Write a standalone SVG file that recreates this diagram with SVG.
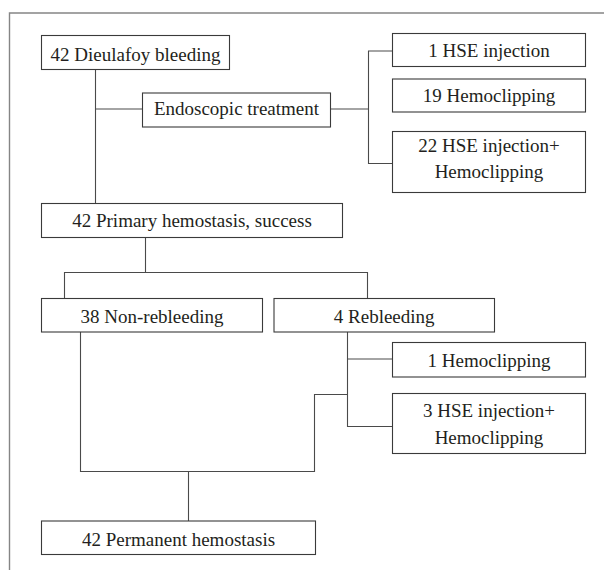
<svg xmlns="http://www.w3.org/2000/svg" width="604" height="570" viewBox="0 0 604 570">
<style>
.frame{fill:none;stroke:#858585;stroke-width:1.4}
.box{fill:#fff;stroke:#3a3a3a;stroke-width:1.1}
.ln{fill:none;stroke:#4a4a4a;stroke-width:1.1}
text{font-family:"Liberation Serif","Times New Roman",serif;font-size:19px;fill:#231f20;text-anchor:middle}
</style>
<rect width="604" height="570" fill="#fff"/>
<path class="frame" d="M9.5,570 V13 H604"/>
<g id="connectors">
<path class="ln" d="M95.5,69 V203"/>
<path class="ln" d="M95.5,109 H142"/>
<path class="ln" d="M330,109 H368.5"/>
<path class="ln" d="M392,51 H368.5 V163.5 H392"/>
<path class="ln" d="M145.5,237 V272.5"/>
<path class="ln" d="M64.5,298 V272.5 H367.5 V298"/>
<path class="ln" d="M347.5,332 V426.5 H392"/>
<path class="ln" d="M347.5,359 H392"/>
<path class="ln" d="M347.5,394.5 H314.5 V471.5 H80.5 V332"/>
<path class="ln" d="M188.5,471.5 V521"/>
</g>
<g id="n1"><rect class="box" x="41.5" y="35.5" width="188" height="34"/><text x="135.5" y="60.7">42 Dieulafoy bleeding</text></g>
<g id="n2"><rect class="box" x="142.5" y="93" width="188" height="34"/><text x="236.5" y="114.7">Endoscopic treatment</text></g>
<g id="n3"><rect class="box" x="392.5" y="33.5" width="193" height="33"/><text x="489" y="57.3">1 HSE injection</text></g>
<g id="n4"><rect class="box" x="392.5" y="79" width="193" height="33"/><text x="489" y="102.3">19 Hemoclipping</text></g>
<g id="n5"><rect class="box" x="392.5" y="131.5" width="193" height="61"/><text x="489" y="152.3">22 HSE injection+</text><text x="489" y="178.3">Hemoclipping</text></g>
<g id="n6"><rect class="box" x="41.5" y="203.5" width="301" height="34"/><text x="192" y="226.7">42 Primary hemostasis, success</text></g>
<g id="n7"><rect class="box" x="41.5" y="298.5" width="221" height="33.5"/><text x="152" y="322.7">38 Non-rebleeding</text></g>
<g id="n8"><rect class="box" x="274" y="298.5" width="220.5" height="33.5"/><text x="384.2" y="322.7">4 Rebleeding</text></g>
<g id="n9"><rect class="box" x="392.5" y="342.5" width="193" height="34.5"/><text x="489" y="366.7">1 Hemoclipping</text></g>
<g id="n10"><rect class="box" x="392.5" y="393.5" width="193" height="60"/><text x="489" y="417.3">3 HSE injection+</text><text x="489" y="444">Hemoclipping</text></g>
<g id="n11"><rect class="box" x="41.5" y="521" width="274" height="33.5"/><text x="178.5" y="545.7">42 Permanent hemostasis</text></g>
</svg>
